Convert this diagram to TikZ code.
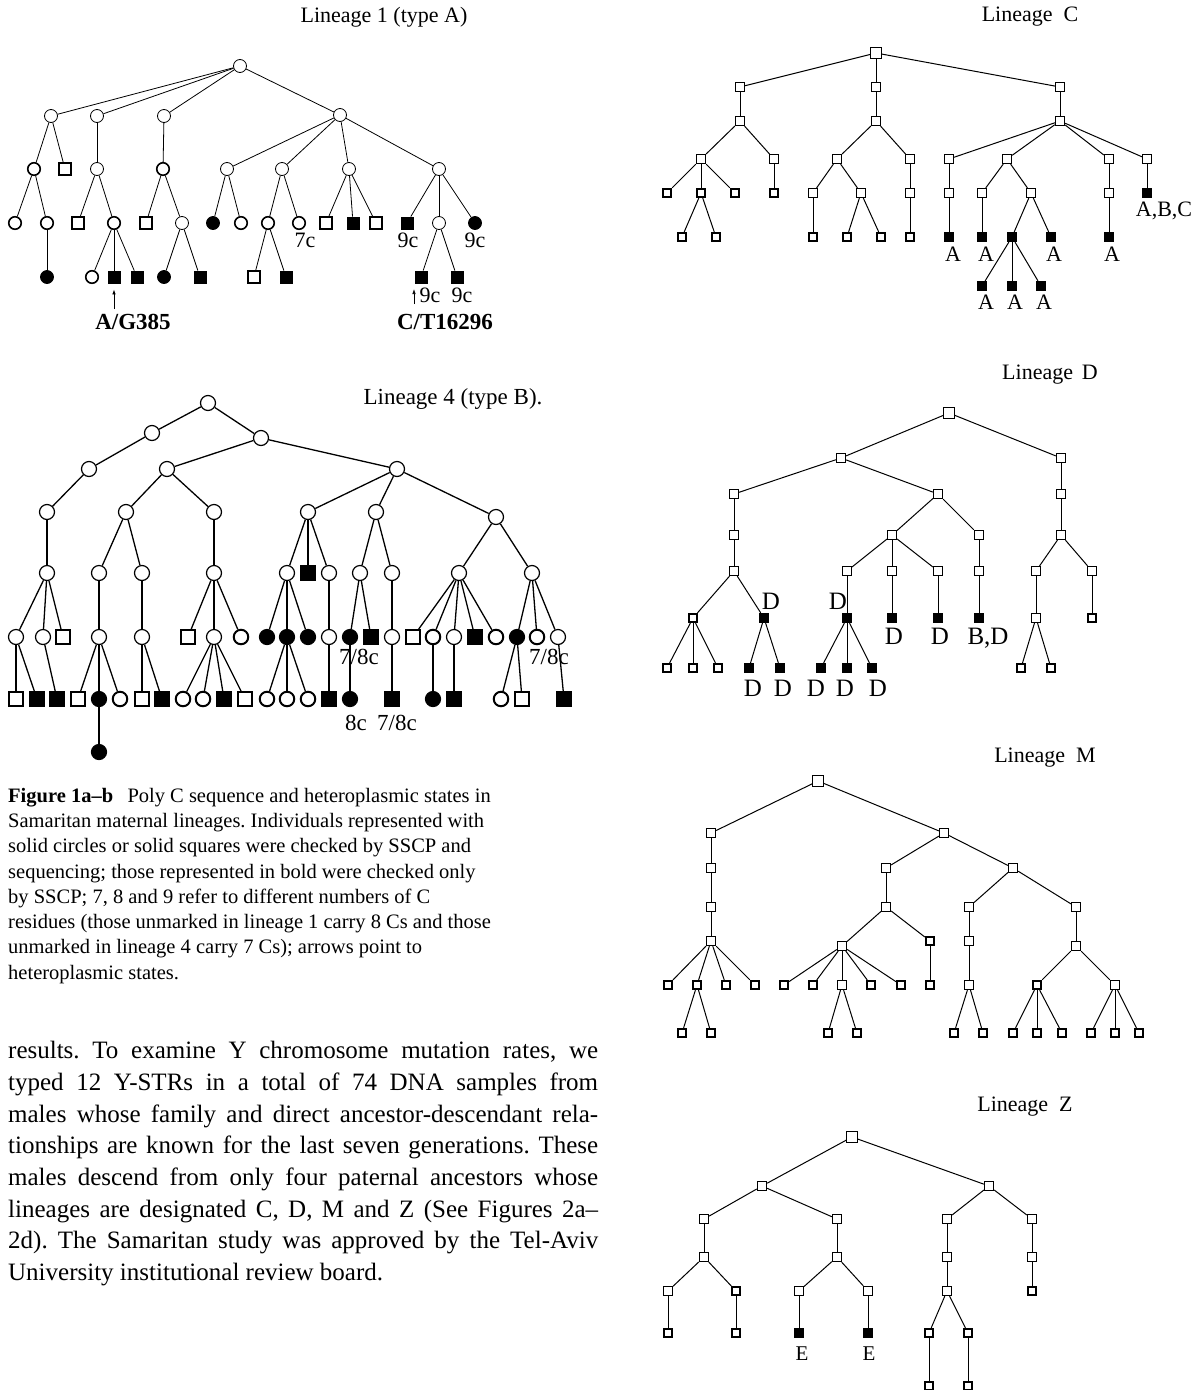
\documentclass[tikz,border=0pt]{standalone}
\usepackage{fontspec}
\setmainfont{Liberation Serif}
\usetikzlibrary{arrows.meta}
\newcommand\mykids[3]{\foreach \kk in {#3}{\draw[#1] (#2) -- (\kk);}}
\frenchspacing
\begin{document}
\begin{tikzpicture}[x=1pt,y=-1pt,
  e1/.style={line width=0.8pt},
  e4/.style={line width=1.3pt},
  ey/.style={line width=1pt},
  o1/.style={circle,draw,fill=white,inner sep=0pt,minimum size=13pt,line width=0.8pt},
  O1/.style={o1,minimum size=12.5pt,line width=1.6pt},
  f1/.style={o1,fill=black},
  s1/.style={rectangle,draw,fill=white,inner sep=0pt,minimum size=12pt,line width=0.8pt},
  S1/.style={s1,minimum size=11.5pt,line width=1.6pt},
  q1/.style={s1,fill=black},
  o4/.style={circle,draw,fill=white,inner sep=0pt,minimum size=15pt,line width=1.2pt},
  O4/.style={o4,minimum size=14.5pt,line width=2pt},
  f4/.style={o4,fill=black},
  s4/.style={rectangle,draw,fill=white,inner sep=0pt,minimum size=14pt,line width=1.2pt},
  S4/.style={s4,minimum size=13.5pt,line width=1.9pt},
  q4/.style={s4,fill=black},
  sy/.style={rectangle,draw,fill=white,inner sep=0pt,minimum size=9.5pt,line width=0.8pt},
  Sy/.style={sy,minimum size=8.5pt,line width=1.8pt},
  qy/.style={sy,fill=black},
  ttl/.style={font=\fontsize{22}{26}\selectfont,inner sep=0pt},
  lab/.style={font=\fontsize{22}{22}\selectfont,inner sep=0pt},
  labD/.style={font=\fontsize{25}{25}\selectfont,inner sep=0pt},
  blab/.style={font=\fontsize{23}{23}\selectfont\bfseries,inner sep=0pt},
  captxt/.style={font=\fontsize{20.5}{25}\selectfont,inner sep=0pt,anchor=base west},
  bodytxt/.style={font=\fontsize{25}{31}\selectfont,inner sep=0pt,anchor=base west},
  arr/.style={line width=0.7pt,-{Latex[length=5pt,width=3.5pt]}}
]
\useasboundingbox (0,0) rectangle (1199,1390);

% ================= Lineage 1 =================
\node[ttl] (t1) at (384,17) {Lineage 1 (type A)};
\node[o1] (a) at (240,66) {};
\node[o1] (a1) at (51,116) {};
\node[o1] (a2) at (97,116) {};
\node[o1] (a3) at (164,116) {};
\node[o1] (a4) at (340,115) {};
\node[O1] (a11) at (34,169) {};
\node[S1] (a12) at (65,169) {};
\node[o1] (a21) at (97,169) {};
\node[O1] (a31) at (163,169) {};
\node[o1] (a41) at (227,169) {};
\node[o1] (a42) at (282,169) {};
\node[o1] (a43) at (349,169) {};
\node[o1] (a44) at (439,169) {};
\node[O1] (a111) at (15,223) {};
\node[O1] (a112) at (47,223) {};
\node[S1] (a211) at (78,223) {};
\node[O1] (a212) at (114,223) {};
\node[S1] (a311) at (146,223) {};
\node[o1] (a312) at (182,223) {};
\node[f1] (a411) at (213,223) {};
\node[O1] (a412) at (241,223) {};
\node[O1] (a421) at (268,223) {};
\node[O1] (a422) at (299,223) {};
\node[S1] (a431) at (326,223) {};
\node[q1] (a432) at (353,223) {};
\node[S1] (a433) at (376,223) {};
\node[q1] (a441) at (407,223) {};
\node[o1] (a442) at (439,223) {};
\node[f1] (a443) at (475,223) {};
\node[f1] (a1121) at (47,277) {};
\node[O1] (a2121) at (92,277) {};
\node[q1] (a2122) at (114,277) {};
\node[q1] (a2123) at (137,277) {};
\node[f1] (a3121) at (164,277) {};
\node[q1] (a3122) at (200,277) {};
\node[S1] (a4211) at (254,277) {};
\node[q1] (a4212) at (286,277) {};
\node[q1] (a4421) at (421,277) {};
\node[q1] (a4422) at (457,277) {};
\mykids{e1}{a}{a1,a2,a3,a4}
\mykids{e1}{a1}{a11,a12}
\mykids{e1}{a2}{a21}
\mykids{e1}{a3}{a31}
\mykids{e1}{a4}{a41,a42,a43,a44}
\mykids{e1}{a11}{a111,a112}
\mykids{e1}{a21}{a211,a212}
\mykids{e1}{a31}{a311,a312}
\mykids{e1}{a41}{a411,a412}
\mykids{e1}{a42}{a421,a422}
\mykids{e1}{a43}{a431,a432,a433}
\mykids{e1}{a44}{a441,a442,a443}
\mykids{e1}{a112}{a1121}
\mykids{e1}{a212}{a2121,a2122,a2123}
\mykids{e1}{a312}{a3121,a3122}
\mykids{e1}{a421}{a4211,a4212}
\mykids{e1}{a442}{a4421,a4422}
\node[lab] (l7c) at (305,240) {7c};
\node[lab] (l9ca) at (408,240) {9c};
\node[lab] (l9cb) at (475,240) {9c};
\node[lab] (l9cc) at (430,295) {9c};
\node[lab] (l9cd) at (462,295) {9c};
\coordinate (arA) at (114,309);
\draw[arr,shorten >=6pt] (arA) -- (a2122);
\node[blab] (lAG) at (133,322) {A/G385};
\coordinate (arB0) at (414,304);
\coordinate (arB1) at (414,289);
\draw[arr] (arB0) -- (arB1);
\node[blab] (lCT) at (445,322) {C/T16296};

% ================= Lineage 4 =================
\node[ttl,font=\fontsize{23}{26}\selectfont] (t4) at (453,399) {Lineage 4 (type B).};
\node[o4] (b) at (208,403) {};
\node[o4] (b1) at (152,433) {};
\node[o4] (b2) at (261,438) {};
\node[o4] (b11) at (89,469) {};
\node[o4] (b21) at (167,469) {};
\node[o4] (b22) at (397,469) {};
\node[o4] (b111) at (47,512) {};
\node[o4] (b211) at (126,512) {};
\node[o4] (b212) at (214,512) {};
\node[o4] (b221) at (308,512) {};
\node[o4] (b222) at (376,512) {};
\node[o4] (b223) at (496,517) {};
\node[o4] (b1111) at (47,573) {};
\node[o4] (b2111) at (99,573) {};
\node[o4] (b2112) at (142,573) {};
\node[o4] (b2121) at (214,573) {};
\node[o4] (b2211) at (287,573) {};
\node[q4] (b2212) at (308,573) {};
\node[o4] (b2213) at (329,573) {};
\node[o4] (b2221) at (360,573) {};
\node[o4] (b2222) at (392,573) {};
\node[o4] (b2231) at (459,573) {};
\node[o4] (b2232) at (532,573) {};
\node[o4] (b11111) at (16,637) {};
\node[o4] (b11112) at (43,637) {};
\node[S4] (b11113) at (63,637) {};
\node[o4] (b21111) at (99,637) {};
\node[o4] (b21121) at (142,637) {};
\node[S4] (b21211) at (188,637) {};
\node[o4] (b21212) at (214,637) {};
\node[O4] (b21213) at (241,637) {};
\node[f4] (b22111) at (267,637) {};
\node[f4] (b22112) at (287,637) {};
\node[f4] (b22113) at (308,637) {};
\node[o4] (b22131) at (329,637) {};
\node[f4] (b22211) at (350,637) {};
\node[q4] (b22212) at (371,637) {};
\node[o4] (b22221) at (392,637) {};
\node[S4] (b22311) at (413,637) {};
\node[O4] (b22312) at (433,637) {};
\node[o4] (b22313) at (454,637) {};
\node[q4] (b22314) at (475,637) {};
\node[O4] (b22315) at (496,637) {};
\node[f4] (b22321) at (517,637) {};
\node[O4] (b22322) at (537,637) {};
\node[o4] (b22323) at (558,637) {};
\node[S4] (b111111) at (16,699) {};
\node[q4] (b111112) at (37,699) {};
\node[q4] (b111121) at (57,699) {};
\node[S4] (b211111) at (78,699) {};
\node[f4] (b211112) at (99,699) {};
\node[O4] (b211113) at (120,699) {};
\node[f4] (b2111121) at (99,752) {};
\node[S4] (b211211) at (142,699) {};
\node[q4] (b211212) at (162,699) {};
\node[O4] (b212121) at (183,699) {};
\node[O4] (b212122) at (203,699) {};
\node[q4] (b212123) at (224,699) {};
\node[S4] (b212124) at (245,699) {};
\node[O4] (b221121) at (267,699) {};
\node[O4] (b221122) at (287,699) {};
\node[O4] (b221123) at (308,699) {};
\node[q4] (b221311) at (329,699) {};
\node[f4] (b222111) at (350,699) {};
\node[q4] (b222211) at (392,699) {};
\node[f4] (b223121) at (433,699) {};
\node[q4] (b223131) at (454,699) {};
\node[O4] (b223211) at (501,699) {};
\node[S4] (b223212) at (522,699) {};
\node[q4] (b223231) at (564,699) {};
\mykids{e4}{b}{b1,b2}
\mykids{e4}{b1}{b11}
\mykids{e4}{b2}{b21,b22}
\mykids{e4}{b11}{b111}
\mykids{e4}{b21}{b211,b212}
\mykids{e4}{b22}{b221,b222,b223}
\mykids{e4}{b111}{b1111}
\mykids{e4}{b211}{b2111,b2112}
\mykids{e4}{b212}{b2121}
\mykids{e4}{b221}{b2211,b2212,b2213}
\mykids{e4}{b222}{b2221,b2222}
\mykids{e4}{b223}{b2231,b2232}
\mykids{e4}{b1111}{b11111,b11112,b11113}
\mykids{e4}{b2111}{b21111}
\mykids{e4}{b2112}{b21121}
\mykids{e4}{b2121}{b21211,b21212,b21213}
\mykids{e4}{b2211}{b22111,b22112,b22113}
\mykids{e4}{b2213}{b22131}
\mykids{e4}{b2221}{b22211,b22212}
\mykids{e4}{b2222}{b22221}
\mykids{e4}{b2231}{b22311,b22312,b22313,b22314,b22315}
\mykids{e4}{b2232}{b22321,b22322,b22323}
\mykids{e4}{b11111}{b111111,b111112}
\mykids{e4}{b11112}{b111121}
\mykids{e4}{b21111}{b211111,b211112,b211113}
\mykids{e4}{b211112}{b2111121}
\mykids{e4}{b21121}{b211211,b211212}
\mykids{e4}{b21212}{b212121,b212122,b212123,b212124}
\mykids{e4}{b22112}{b221121,b221122,b221123}
\mykids{e4}{b22131}{b221311}
\mykids{e4}{b22211}{b222111}
\mykids{e4}{b22221}{b222211}
\mykids{e4}{b22312}{b223121}
\mykids{e4}{b22313}{b223131}
\mykids{e4}{b22321}{b223211,b223212}
\mykids{e4}{b22323}{b223231}
\node[lab,font=\fontsize{23}{23}\selectfont] (l78a) at (359,657) {7/8c};
\node[lab,font=\fontsize{23}{23}\selectfont] (l78b) at (549,657) {7/8c};
\node[lab,font=\fontsize{23}{23}\selectfont] (l8c) at (356,723) {8c};
\node[lab,font=\fontsize{23}{23}\selectfont] (l78c) at (397,723) {7/8c};

% ================= Caption and body =================
\node[captxt] (cp1) at (8,802) {\textbf{Figure 1a–b}\hspace{0.7em}Poly C sequence and heteroplasmic states in};
\node[captxt] (cp2) at (8,827) {Samaritan maternal lineages. Individuals represented with};
\node[captxt] (cp3) at (8,852) {solid circles or solid squares were checked by SSCP and};
\node[captxt] (cp4) at (8,878) {sequencing; those represented in bold were checked only};
\node[captxt] (cp5) at (8,903) {by SSCP; 7, 8 and 9 refer to different numbers of C};
\node[captxt] (cp6) at (8,928) {residues (those unmarked in lineage 1 carry 8 Cs and those};
\node[captxt] (cp7) at (8,953) {unmarked in lineage 4 carry 7 Cs); arrows point to};
\node[captxt] (cp8) at (8,979) {heteroplasmic states.};

\node[bodytxt] (bd1) at (8,1058) {\makebox[590pt][s]{results. To examine Y chromosome mutation rates, we}};
\node[bodytxt] (bd2) at (8,1090) {\makebox[590pt][s]{typed 12 Y-STRs in a total of 74 DNA samples from}};
\node[bodytxt] (bd3) at (8,1122) {\makebox[590pt][s]{males whose family and direct ancestor-descendant rela-}};
\node[bodytxt] (bd4) at (8,1153) {\makebox[590pt][s]{tionships are known for the last seven generations. These}};
\node[bodytxt] (bd5) at (8,1185) {\makebox[590pt][s]{males descend from only four paternal ancestors whose}};
\node[bodytxt] (bd6) at (8,1217) {\makebox[590pt][s]{lineages are designated C, D, M and Z (See Figures 2a–}};
\node[bodytxt] (bd7) at (8,1248) {\makebox[590pt][s]{2d). The Samaritan study was approved by the Tel-Aviv}};
\node[bodytxt] (bd8) at (8,1280) {University institutional review board.};

% ================= Lineage C =================
\node[ttl] (tC) at (1030,17) {Lineage\hspace{0.5em}C};
\node[sy,minimum size=10.5pt] (c) at (876,53) {};
\node[sy] (c1) at (740,87) {};
\node[sy] (c2) at (876,87) {};
\node[sy] (c3) at (1060,87) {};
\node[sy] (c11) at (740,121) {};
\node[sy] (c21) at (876,121) {};
\node[sy] (c31) at (1060,121) {};
\node[sy] (c111) at (701,159) {};
\node[sy] (c112) at (774,159) {};
\node[sy] (c211) at (837,159) {};
\node[sy] (c212) at (910,159) {};
\node[sy] (c311) at (949,159) {};
\node[sy] (c312) at (1007,159) {};
\node[sy] (c313) at (1109,159) {};
\node[sy] (c314) at (1147,159) {};
\node[Sy] (c1111) at (667,193) {};
\node[Sy] (c1112) at (701,193) {};
\node[Sy] (c1113) at (735,193) {};
\node[Sy] (c1121) at (774,193) {};
\node[sy] (c2111) at (813,193) {};
\node[sy] (c2112) at (861,193) {};
\node[sy] (c2121) at (910,193) {};
\node[sy] (c3111) at (949,193) {};
\node[sy] (c3121) at (982,193) {};
\node[sy] (c3122) at (1031,193) {};
\node[sy] (c3131) at (1109,193) {};
\node[qy] (c3141) at (1147,193) {};
\node[Sy] (c11121) at (682,237) {};
\node[Sy] (c11122) at (716,237) {};
\node[Sy] (c21111) at (813,237) {};
\node[Sy] (c21121) at (847,237) {};
\node[Sy] (c21122) at (881,237) {};
\node[Sy] (c21211) at (910,237) {};
\node[qy] (c31111) at (949,237) {};
\node[qy] (c31211) at (982,237) {};
\node[qy] (c31221) at (1012,237) {};
\node[qy] (c31222) at (1051,237) {};
\node[qy] (c31311) at (1109,237) {};
\node[qy] (c312211) at (982,286) {};
\node[qy] (c312212) at (1012,286) {};
\node[qy] (c312213) at (1041,286) {};
\mykids{ey}{c}{c1,c2,c3}
\mykids{ey}{c1}{c11}
\mykids{ey}{c2}{c21}
\mykids{ey}{c3}{c31}
\mykids{ey}{c11}{c111,c112}
\mykids{ey}{c21}{c211,c212}
\mykids{ey}{c31}{c311,c312,c313,c314}
\mykids{ey}{c111}{c1111,c1112,c1113}
\mykids{ey}{c112}{c1121}
\mykids{ey}{c211}{c2111,c2112}
\mykids{ey}{c212}{c2121}
\mykids{ey}{c311}{c3111}
\mykids{ey}{c312}{c3121,c3122}
\mykids{ey}{c313}{c3131}
\mykids{ey}{c314}{c3141}
\mykids{ey}{c1112}{c11121,c11122}
\mykids{ey}{c2111}{c21111}
\mykids{ey}{c2112}{c21121,c21122}
\mykids{ey}{c2121}{c21211}
\mykids{ey}{c3111}{c31111}
\mykids{ey}{c3121}{c31211}
\mykids{ey}{c3122}{c31221,c31222}
\mykids{ey}{c3131}{c31311}
\mykids{ey}{c31221}{c312211,c312212,c312213}
\node[lab] (lABC) at (1164,211) {A,B,C};
\node[lab] (lCa) at (953,254) {A};
\node[lab] (lCb) at (986,254) {A};
\node[lab] (lCc) at (1054,254) {A};
\node[lab] (lCd) at (1112,254) {A};
\node[lab] (lCe) at (986,302) {A};
\node[lab] (lCf) at (1015,302) {A};
\node[lab] (lCg) at (1044,302) {A};

% ================= Lineage D =================
\node[ttl] (tD) at (1050,375) {Lineage\hspace{0.4em}D};
\node[sy,minimum size=10.5pt] (d) at (949,413) {};
\node[sy] (d1) at (841,458) {};
\node[sy] (d2) at (1061,458) {};
\node[sy] (d11) at (734,494) {};
\node[sy] (d12) at (938,494) {};
\node[sy] (d21) at (1061,494) {};
\node[sy] (d111) at (734,535) {};
\node[sy] (d121) at (892,535) {};
\node[sy] (d122) at (979,535) {};
\node[sy] (d211) at (1061,535) {};
\node[sy] (d1111) at (734,571) {};
\node[sy] (d1211) at (847,571) {};
\node[sy] (d1212) at (892,571) {};
\node[sy] (d1213) at (938,571) {};
\node[sy] (d1221) at (979,571) {};
\node[sy] (d2111) at (1036,571) {};
\node[sy] (d2112) at (1092,571) {};
\node[Sy] (d11111) at (693,618) {};
\node[qy] (d11112) at (764,618) {};
\node[qy] (d12111) at (847,618) {};
\node[qy] (d12121) at (892,618) {};
\node[qy] (d12131) at (938,618) {};
\node[qy] (d12211) at (979,618) {};
\node[sy] (d21111) at (1036,618) {};
\node[Sy] (d21121) at (1092,618) {};
\node[Sy] (d111111) at (667,668) {};
\node[Sy] (d111112) at (693,668) {};
\node[Sy] (d111113) at (718,668) {};
\node[qy] (d111121) at (749,668) {};
\node[qy] (d111122) at (780,668) {};
\node[qy] (d121111) at (821,668) {};
\node[qy] (d121112) at (847,668) {};
\node[qy] (d121113) at (872,668) {};
\node[Sy] (d211111) at (1021,668) {};
\node[Sy] (d211112) at (1051,668) {};
\mykids{ey}{d}{d1,d2}
\mykids{ey}{d1}{d11,d12}
\mykids{ey}{d2}{d21}
\mykids{ey}{d11}{d111}
\mykids{ey}{d12}{d121,d122}
\mykids{ey}{d21}{d211}
\mykids{ey}{d111}{d1111}
\mykids{ey}{d121}{d1211,d1212,d1213}
\mykids{ey}{d122}{d1221}
\mykids{ey}{d211}{d2111,d2112}
\mykids{ey}{d1111}{d11111,d11112}
\mykids{ey}{d1211}{d12111}
\mykids{ey}{d1212}{d12121}
\mykids{ey}{d1213}{d12131}
\mykids{ey}{d1221}{d12211}
\mykids{ey}{d2111}{d21111}
\mykids{ey}{d2112}{d21121}
\mykids{ey}{d11111}{d111111,d111112,d111113}
\mykids{ey}{d11112}{d111121,d111122}
\mykids{ey}{d12111}{d121111,d121112,d121113}
\mykids{ey}{d21111}{d211111,d211112}
\node[labD] (lDa) at (771,601) {D};
\node[labD] (lDb) at (838,601) {D};
\node[labD] (lDc) at (894,636) {D};
\node[labD] (lDd) at (940,636) {D};
\node[labD] (lDe) at (988,638) {B,D};
\node[labD] (lDf) at (753,688) {D};
\node[labD] (lDg) at (783,688) {D};
\node[labD] (lDh) at (816,688) {D};
\node[labD] (lDi) at (845,688) {D};
\node[labD] (lDj) at (878,688) {D};

% ================= Lineage M =================
\node[ttl] (tM) at (1045,758) {Lineage\hspace{0.5em}M};
\node[sy,minimum size=10.5pt] (m) at (818,781) {};
\node[sy] (m1) at (711,833) {};
\node[sy] (m2) at (944,833) {};
\node[sy] (m11) at (711,868) {};
\node[sy] (m21) at (886,868) {};
\node[sy] (m22) at (1013,868) {};
\node[sy] (m111) at (711,907) {};
\node[sy] (m211) at (886,907) {};
\node[sy] (m221) at (969,907) {};
\node[sy] (m222) at (1076,907) {};
\node[sy] (m1111) at (711,941) {};
\node[sy] (m2111) at (842,946) {};
\node[Sy] (m2112) at (930,941) {};
\node[sy] (m2211) at (969,941) {};
\node[sy] (m2221) at (1076,946) {};
\node[Sy] (m11111) at (668,985) {};
\node[Sy] (m11112) at (697,985) {};
\node[Sy] (m11113) at (726,985) {};
\node[Sy] (m11114) at (755,985) {};
\node[Sy] (m21111) at (784,985) {};
\node[Sy] (m21112) at (813,985) {};
\node[sy] (m21113) at (842,985) {};
\node[Sy] (m21114) at (871,985) {};
\node[Sy] (m21115) at (901,985) {};
\node[Sy] (m21121) at (930,985) {};
\node[sy] (m22111) at (969,985) {};
\node[Sy] (m22211) at (1037,985) {};
\node[sy] (m22212) at (1115,985) {};
\node[Sy] (m111121) at (682,1033) {};
\node[Sy] (m111122) at (711,1033) {};
\node[Sy] (m211131) at (828,1033) {};
\node[Sy] (m211132) at (857,1033) {};
\node[Sy] (m221111) at (954,1033) {};
\node[Sy] (m221112) at (983,1033) {};
\node[Sy] (m222111) at (1013,1033) {};
\node[Sy] (m222112) at (1037,1033) {};
\node[Sy] (m222113) at (1062,1033) {};
\node[Sy] (m222121) at (1091,1033) {};
\node[Sy] (m222122) at (1115,1033) {};
\node[Sy] (m222123) at (1139,1033) {};
\mykids{ey}{m}{m1,m2}
\mykids{ey}{m1}{m11}
\mykids{ey}{m2}{m21,m22}
\mykids{ey}{m11}{m111}
\mykids{ey}{m21}{m211}
\mykids{ey}{m22}{m221,m222}
\mykids{ey}{m111}{m1111}
\mykids{ey}{m211}{m2111,m2112}
\mykids{ey}{m221}{m2211}
\mykids{ey}{m222}{m2221}
\mykids{ey}{m1111}{m11111,m11112,m11113,m11114}
\mykids{ey}{m2111}{m21111,m21112,m21113,m21114,m21115}
\mykids{ey}{m2112}{m21121}
\mykids{ey}{m2211}{m22111}
\mykids{ey}{m2221}{m22211,m22212}
\mykids{ey}{m11112}{m111121,m111122}
\mykids{ey}{m21113}{m211131,m211132}
\mykids{ey}{m22111}{m221111,m221112}
\mykids{ey}{m22211}{m222111,m222112,m222113}
\mykids{ey}{m22212}{m222121,m222122,m222123}

% ================= Lineage Z =================
\node[ttl] (tZ) at (1025,1107) {Lineage\hspace{0.5em}Z};
\node[sy,minimum size=10.5pt] (z) at (852,1137) {};
\node[sy] (z1) at (762,1186) {};
\node[sy] (z2) at (989,1186) {};
\node[sy] (z11) at (704,1219) {};
\node[sy] (z12) at (837,1219) {};
\node[sy] (z21) at (947,1219) {};
\node[sy] (z22) at (1032,1219) {};
\node[sy] (z111) at (704,1257) {};
\node[sy] (z121) at (837,1257) {};
\node[sy] (z211) at (947,1257) {};
\node[sy] (z221) at (1032,1257) {};
\node[sy] (z1111) at (668,1291) {};
\node[Sy] (z1112) at (736,1291) {};
\node[sy] (z1211) at (799,1291) {};
\node[sy] (z1212) at (868,1291) {};
\node[sy] (z2111) at (947,1291) {};
\node[Sy] (z2211) at (1032,1291) {};
\node[Sy] (z11111) at (668,1333) {};
\node[Sy] (z11121) at (736,1333) {};
\node[qy] (z12111) at (799,1333) {};
\node[qy] (z12121) at (868,1333) {};
\node[Sy] (z21111) at (929,1333) {};
\node[Sy] (z21112) at (968,1333) {};
\node[Sy] (z211111) at (929,1386) {};
\node[Sy] (z211121) at (968,1386) {};
\mykids{ey}{z}{z1,z2}
\mykids{ey}{z1}{z11,z12}
\mykids{ey}{z2}{z21,z22}
\mykids{ey}{z11}{z111}
\mykids{ey}{z12}{z121}
\mykids{ey}{z21}{z211}
\mykids{ey}{z22}{z221}
\mykids{ey}{z111}{z1111,z1112}
\mykids{ey}{z121}{z1211,z1212}
\mykids{ey}{z211}{z2111}
\mykids{ey}{z221}{z2211}
\mykids{ey}{z1111}{z11111}
\mykids{ey}{z1112}{z11121}
\mykids{ey}{z1211}{z12111}
\mykids{ey}{z1212}{z12121}
\mykids{ey}{z2111}{z21111,z21112}
\mykids{ey}{z21111}{z211111}
\mykids{ey}{z21112}{z211121}
\node[lab,font=\fontsize{21}{21}\selectfont] (lEa) at (802,1354) {E};
\node[lab,font=\fontsize{21}{21}\selectfont] (lEb) at (869,1354) {E};
\end{tikzpicture}
\end{document}
